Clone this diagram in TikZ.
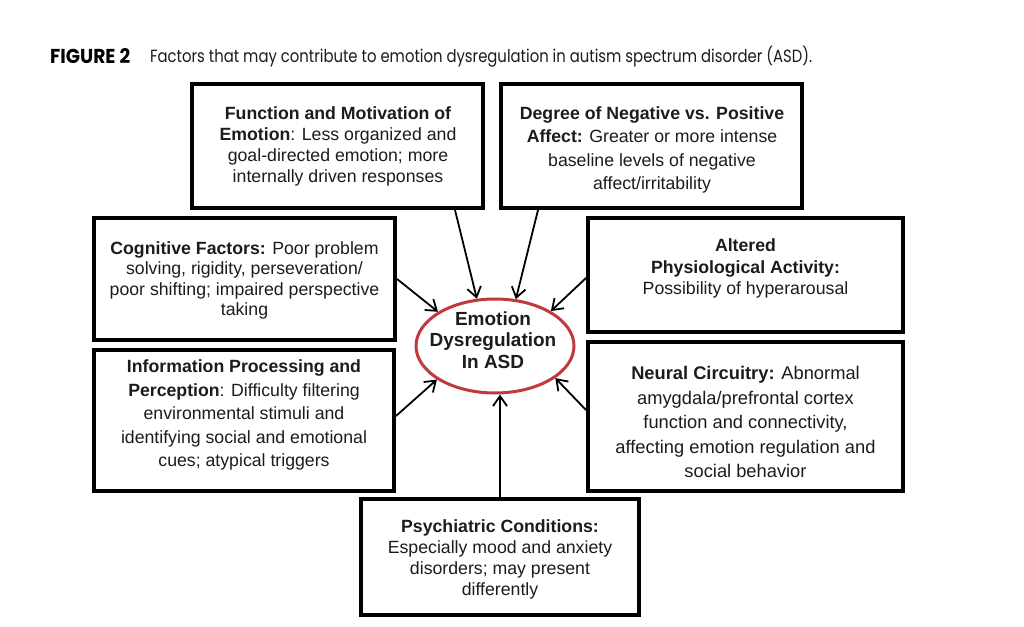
\documentclass[tikz,border=0pt]{standalone}
\usepackage{graphicx}
\usepackage{fontspec}
\setmainfont{Liberation Sans}
\newfontfamily\capfont{Poppins}
\usetikzlibrary{shapes.geometric,arrows.meta}
\definecolor{ellred}{HTML}{C0393C}
\definecolor{txt}{HTML}{1C1C1C}
\begin{document}
\begin{tikzpicture}[x=1pt,y=-1pt,
  boxframe/.style={draw=black, line width=4pt, fill=white, inner sep=0pt},
  boxtext/.style={align=center, text=txt, inner sep=0pt, font=\fontsize{17.7}{21}\selectfont},
  arr/.style={line width=1.8pt, -{Straight Barb[length=10pt,width=14pt]}},
]
\useasboundingbox (0,0) rectangle (1024,626);
\fill[white] (0,0) rectangle (1024,626);

% title
\node[anchor=base west, inner sep=0pt] (fig) at (50,63) {\resizebox{80pt}{15pt}{\capfont\bfseries FIGURE 2}};
\node[anchor=base west, inner sep=0pt, text=txt] (cap) at (150,63) {\resizebox{662pt}{16.5pt}{\capfont Factors that may contribute to emotion dysregulation in autism spectrum disorder (ASD).}};

% boxes
\node[boxframe, minimum width=291pt, minimum height=124pt] (b1) at (337.5,146) {};
\node[boxframe, minimum width=301pt, minimum height=124pt] (b2) at (651.5,146) {};
\node[boxframe, minimum width=301pt, minimum height=122pt] (b3) at (244.5,279) {};
\node[boxframe, minimum width=315pt, minimum height=114pt] (b4) at (745.5,275) {};
\node[boxframe, minimum width=300pt, minimum height=141pt] (b5) at (244,420.5) {};
\node[boxframe, minimum width=315pt, minimum height=149pt] (b6) at (745.5,416.5) {};
\node[boxframe, minimum width=278pt, minimum height=116pt] (b7) at (500,557) {};

% texts
\node[boxtext] (t1) at (338,146.5) {\textbf{Function and Motivation of}\\\textbf{Emotion}: Less organized and\\goal-directed emotion; more\\internally driven responses};
\node[boxtext, font=\fontsize{17.7}{23.3}\selectfont] (t2) at (652,150) {\textbf{Degree of Negative vs. Positive}\\\textbf{Affect:} Greater or more intense\\baseline levels of negative\\affect/irritability};
\node[boxtext, font=\fontsize{17.7}{20.4}\selectfont] (t3) at (244.5,280.5) {\textbf{Cognitive Factors:} Poor problem\\solving, rigidity, perseveration/\\poor shifting; impaired perspective\\taking};
\node[boxtext, font=\fontsize{17.7}{21.5}\selectfont] (t4) at (745.5,268.5) {\textbf{Altered}\\\textbf{Physiological Activity:}\\Possibility of hyperarousal};
\node[boxtext, font=\fontsize{17.7}{23.5}\selectfont] (t5) at (244,415) {\textbf{Information Processing and}\\\textbf{Perception}: Difficulty filtering\\environmental stimuli and\\identifying social and emotional\\cues; atypical triggers};
\node[boxtext, font=\fontsize{18.3}{24.5}\selectfont] (t6) at (745.5,422) {\textbf{Neural Circuitry:} Abnormal\\amygdala/prefrontal cortex\\function and connectivity,\\affecting emotion regulation and\\social behavior};
\node[boxtext] (t7) at (500,559.5) {\textbf{Psychiatric Conditions:}\\Especially mood and anxiety\\disorders; may present\\differently};

% ellipse
\node[ellipse, draw=ellred, line width=3pt, fill=white, minimum width=158pt, minimum height=94pt, inner sep=0pt] (ell) at (495,346) {};
\node[boxtext, font=\bfseries\fontsize{19}{21.5}\selectfont] (et) at (493,340) {Emotion\\Dysregulation\\In ASD};

% arrows
\draw[arr] ([xshift=117.5pt]b1.south) -- (ell.111);
\draw[arr] ([xshift=-113.5pt]b2.south) -- (ell.66);
\draw[arr] (b3.east) -- (ell.149);
\draw[arr] ([yshift=-3pt]b4.west) -- (ell.32);
\draw[arr] ([yshift=4.5pt]b5.east) -- (ell.210);
\draw[arr] ([yshift=6.5pt]b6.west) -- (ell.332);
\draw[arr] (b7.north) -- (b7.north |- ell.south);
\end{tikzpicture}
\end{document}
